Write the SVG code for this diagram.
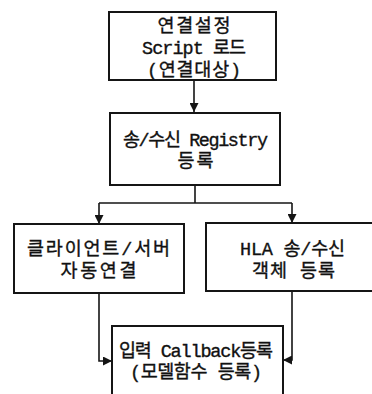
<svg xmlns="http://www.w3.org/2000/svg" width="372" height="394" viewBox="0 0 372 394">
  <style>
    .box { fill: #ffffff; stroke: #151515; stroke-width: 2; }
    .wire { fill: none; stroke: #151515; stroke-width: 1.6; }
    .label { font-family: "Liberation Mono", "Noto Sans CJK KR", monospace; font-size: 18.5px; fill: #111111; text-anchor: middle; stroke: #111111; stroke-width: 0.35; }
  </style>
  <defs>
    <marker id="arrow" viewBox="0 0 10 10" refX="10" refY="5" markerWidth="9" markerHeight="9" markerUnits="userSpaceOnUse" orient="auto">
      <path d="M0,0 L10,5 L0,10 Z" fill="#151515"/>
    </marker>
  </defs>
  <rect width="372" height="394" fill="#ffffff"/>

  <g id="connectors">
    <path class="wire" d="M194,80 L194,112" marker-end="url(#arrow)"/>
    <path class="wire" d="M195,185 L195,203"/>
    <path class="wire" d="M99,203 L292,203"/>
    <path class="wire" d="M99,203 L99,224" marker-end="url(#arrow)"/>
    <path class="wire" d="M292,203 L292,223" marker-end="url(#arrow)"/>
    <path class="wire" d="M99,293 L99,361 L112,361" marker-end="url(#arrow)"/>
    <path class="wire" d="M292,291 L292,360 L283,360" marker-end="url(#arrow)"/>
  </g>

  <g id="node-script-load">
    <rect class="box" x="109" y="12" width="167" height="68"/>
    <text class="label" x="194" y="32" textLength="73">연결설정</text>
    <text class="label" x="194" y="54" textLength="104">Script 로드</text>
    <text class="label" x="194" y="76" textLength="94">(연결대상)</text>
  </g>

  <g id="node-registry">
    <rect class="box" x="110" y="113" width="170" height="72"/>
    <text class="label" x="195.5" y="146" textLength="145">송/수신 Registry</text>
    <text class="label" x="195.5" y="167" textLength="36">등록</text>
  </g>

  <g id="node-client-server">
    <rect class="box" x="14" y="224" width="170" height="69"/>
    <text class="label" x="98.5" y="255" textLength="143">클라이언트/서버</text>
    <text class="label" x="98.5" y="277" textLength="76">자동연결</text>
  </g>

  <g id="node-hla-objects">
    <rect class="box" x="206" y="223" width="180" height="68"/>
    <text class="label" x="292.5" y="255" textLength="105">HLA 송/수신</text>
    <text class="label" x="293.5" y="277" textLength="83">객체 등록</text>
  </g>

  <g id="node-callback">
    <rect class="box" x="112" y="326" width="171" height="80"/>
    <text class="label" x="196" y="357" textLength="154">입력 Callback등록</text>
    <text class="label" x="196" y="378" textLength="132">(모델함수 등록)</text>
  </g>
</svg>
